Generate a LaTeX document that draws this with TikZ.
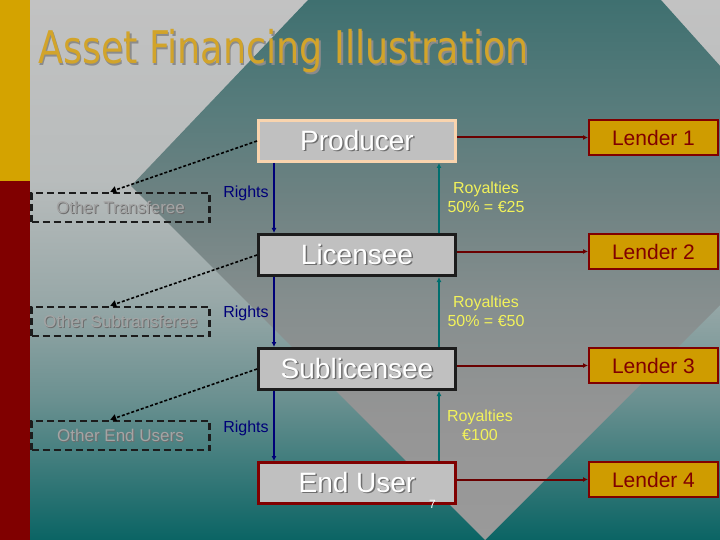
\documentclass[tikz,border=0pt]{standalone}
\usepackage{fontspec}
\usepackage{graphicx}
\setmainfont{Liberation Sans}
\newfontfamily\titlefont{DejaVu Sans}
\usetikzlibrary{arrows.meta}
\definecolor{stripgold}{HTML}{D4A300}
\definecolor{lendergold}{HTML}{CF9C00}
\definecolor{titlegold}{HTML}{D2A42A}
\definecolor{darkred}{HTML}{800000}
\definecolor{arrowred}{HTML}{6A0000}
\definecolor{navyc}{HTML}{000078}
\definecolor{tealc}{HTML}{006E6E}
\definecolor{royyellow}{HTML}{F2F25A}
\definecolor{boxgray}{HTML}{C0C0C0}
\definecolor{peach}{HTML}{F9D4AE}
\definecolor{boxdark}{HTML}{1C1C1C}
\definecolor{othergray}{HTML}{A4A4A4}
\definecolor{shadowgray}{HTML}{6E6E6E}
\definecolor{bgA}{HTML}{C2C2C2}
\definecolor{bgB}{HTML}{B8BCBC}
\definecolor{bgC}{HTML}{98A8A8}
\definecolor{bgD}{HTML}{6A9090}
\definecolor{bgE}{HTML}{0A6464}
\definecolor{dmA}{HTML}{3F7070}
\definecolor{dmB}{HTML}{587C7C}
\definecolor{dmC}{HTML}{6E8282}
\definecolor{dmD}{HTML}{858E8E}
\definecolor{dmE}{HTML}{959595}
\definecolor{dmF}{HTML}{9A9A9A}
\pgfdeclareverticalshading{bgshade}{100bp}{color(0bp)=(bgE); color(25bp)=(bgE); color(37.96bp)=(bgD); color(47.22bp)=(bgC); color(58.33bp)=(bgB); color(75bp)=(bgA); color(100bp)=(bgA)}
\pgfdeclareverticalshading{diamshade}{100bp}{color(0bp)=(dmF); color(25bp)=(dmF); color(36.1bp)=(dmE); color(47.2bp)=(dmD); color(56.5bp)=(dmC); color(64.8bp)=(dmB); color(75bp)=(dmA); color(100bp)=(dmA)}
\newcommand\shadowtext[3]{\makebox[0pt][l]{\hspace*{#2}\raisebox{-#2}{\textcolor{#1}{#3}}}#3}
\begin{document}
\begin{tikzpicture}[x=1pt,y=-1pt,
  mainbox/.style={draw, line width=3pt, fill=boxgray, minimum width=197pt, minimum height=41pt, inner sep=0pt, font=\fontsize{28}{30}\selectfont, text=white},
  lenderbox/.style={draw=darkred, line width=2pt, fill=lendergold, minimum width=129pt, minimum height=35pt, inner sep=0pt, font=\fontsize{21}{24}\selectfont, text=darkred},
  otherbox/.style={draw=boxdark, dash pattern=on 7pt off 4pt, line width=2.5pt, minimum width=178pt, minimum height=29pt, inner sep=0pt, font=\fontsize{17}{20}\selectfont, text=othergray},
  rightslabel/.style={text=navyc, font=\fontsize{16}{19}\selectfont, inner sep=0pt},
  roylabel/.style={text=royyellow, font=\fontsize{16}{19}\selectfont, inner sep=0pt, align=center},
  lendarrow/.style={draw=arrowred, line width=2pt, -{Latex[length=5pt,width=5pt]}},
  rightsarrow/.style={draw=navyc, line width=2pt, -{Latex[length=5pt,width=5pt]}},
  royarrow/.style={draw=tealc, line width=2pt, -{Latex[length=5pt,width=5pt]}},
  dotarrow/.style={draw=black, line width=1.6pt, dash pattern=on 3pt off 2pt, -{Triangle[length=6pt,width=7pt]}}
]
\useasboundingbox (0,0) rectangle (720,540);
% background
\shade[shading=bgshade] (30,0) rectangle (720,540);
\begin{scope}
  \clip (30,0) rectangle (720,540);
  \shade[shading=diamshade] (308,0) -- (131,186) -- (485,540) -- (833,192) -- (661,0) -- cycle;
\end{scope}
\fill[stripgold] (0,0) rectangle (30,181);
\fill[darkred] (0,181) rectangle (30,540);
% title
\node[anchor=base west, inner sep=0pt, text=titlegold] (title) at (38,64)
  {\titlefont\fontsize{45}{50}\selectfont\scalebox{0.81}[1]{\shadowtext{shadowgray!80}{2pt}{Asset Financing Illustration}}};
% main boxes
\node[mainbox, draw=peach] (prod) at (357,141) {\shadowtext{shadowgray}{1.5pt}{Producer}};
\node[mainbox, draw=boxdark] (lic) at (357,255) {\shadowtext{shadowgray}{1.5pt}{Licensee}};
\node[mainbox, draw=boxdark] (sub) at (357,369) {\shadowtext{shadowgray}{1.5pt}{Sublicensee}};
\node[mainbox, draw=darkred] (end) at (357,483) {\shadowtext{shadowgray}{1.5pt}{End User}};
% lenders
\node[lenderbox] (l1) at (653.5,137.5) {Lender 1};
\node[lenderbox] (l2) at (653.5,251.5) {Lender 2};
\node[lenderbox] (l3) at (653.5,365.5) {Lender 3};
\node[lenderbox] (l4) at (653.5,479.5) {Lender 4};
% other boxes
\node[otherbox] (o1) at (120.5,207.5) {\shadowtext{shadowgray}{1pt}{Other Transferee}};
\node[otherbox] (o2) at (120.5,321.5) {\shadowtext{shadowgray}{1pt}{Other Subtransferee}};
\node[otherbox] (o3) at (120.5,435.5) {\shadowtext{shadowgray}{1pt}{Other End Users}};
% lender connectors
\draw[lendarrow] (l1.west -| prod.east) -- (l1.west);
\draw[lendarrow] (l2.west -| lic.east) -- (l2.west);
\draw[lendarrow] (l3.west -| sub.east) -- (l3.west);
\draw[lendarrow] (l4.west -| end.east) -- (l4.west);
% rights
\draw[rightsarrow] ([xshift=17pt]prod.south west) -- ([xshift=17pt]lic.north west);
\draw[rightsarrow] ([xshift=17pt]lic.south west) -- ([xshift=17pt]sub.north west);
\draw[rightsarrow] ([xshift=17pt]sub.south west) -- ([xshift=17pt]end.north west);
\node[rightslabel] (r1) at (246,193) {Rights};
\node[rightslabel] (r2) at (246,313) {Rights};
\node[rightslabel] (r3) at (246,428) {Rights};
% royalties
\draw[royarrow] ([xshift=-18pt]lic.north east) -- ([xshift=-18pt]prod.south east);
\draw[royarrow] ([xshift=-18pt]sub.north east) -- ([xshift=-18pt]lic.south east);
\draw[royarrow] ([xshift=-18pt]end.north east) -- ([xshift=-18pt]sub.south east);
\node[roylabel] (y1) at (486,197) {Royalties\\50\% = €25};
\node[roylabel] (y2) at (486,311) {Royalties\\50\% = €50};
\node[roylabel] (y3) at (480,425) {Royalties\\€100};
% other transfers
\draw[dotarrow] (prod.west) -- ([xshift=80pt]o1.north west);
\draw[dotarrow] (lic.west) -- ([xshift=80pt]o2.north west);
\draw[dotarrow] (sub.west) -- ([xshift=80pt]o3.north west);
% page number
\node[text=white, font=\fontsize{12}{14}\selectfont, inner sep=0pt] (pg) at (432.5,504) {7};
\end{tikzpicture}
\end{document}
